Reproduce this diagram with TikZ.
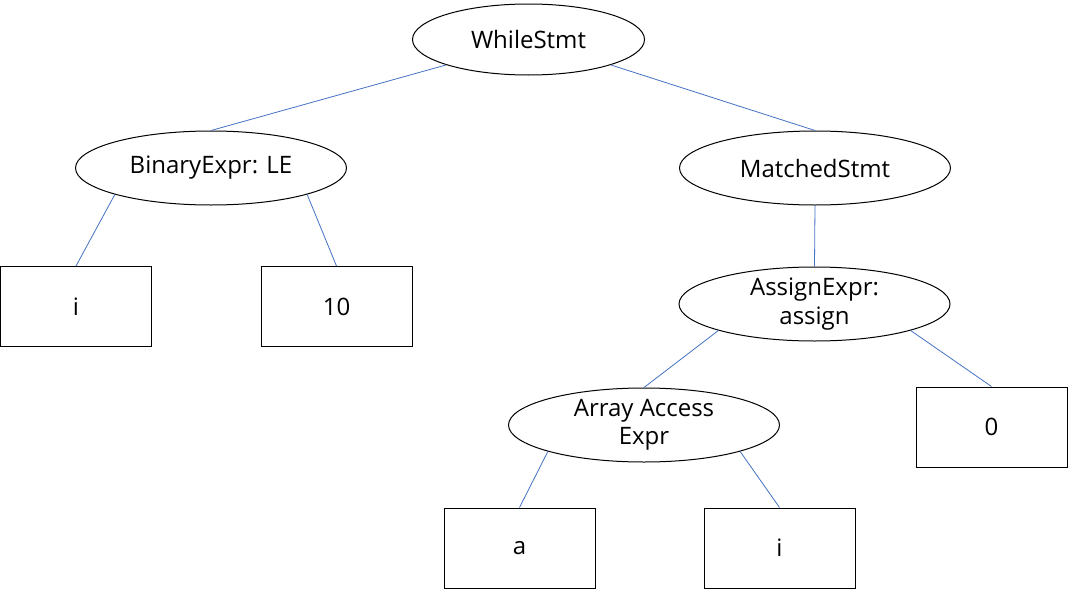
\documentclass[tikz,border=0pt]{standalone}
\usepackage{fontspec}
\setmainfont{Open Sans}
\usepackage{tikz}
\usetikzlibrary{shapes.geometric}
\definecolor{edgeblue}{RGB}{68,114,196}

\begin{document}
\begin{tikzpicture}
  [x=1pt,y=-1pt,every node/.style={draw,line width=1pt,align=center,inner sep=0pt,
   font=\fontsize{24}{28.5}\selectfont}]

  \tikzstyle{stmt} = [ellipse,minimum width=271pt,minimum height=74pt]
  \tikzstyle{leaf} = [rectangle,minimum width=151pt,minimum height=80pt]

  \useasboundingbox (0,0) rectangle (1069,589);

  \node[stmt,minimum width=232pt,minimum height=71pt] (while) at (528.5,39.5) {WhileStmt};
  \node[stmt] (binop)   at (211,168)   {BinaryExpr: LE};
  \node[stmt] (matched) at (815,168)   {MatchedStmt};
  \node[stmt] (assign)  at (814.5,304) {AssignExpr:\\assign};
  \node[stmt] (access)  at (644,425)   {Array Access\\Expr};

  \node[leaf] (i)    at (76,306.5)  {i};
  \node[leaf] (ten)  at (336.5,306.5) {10};
  \node[leaf] (zero) at (991.5,427) {0};
  \node[leaf] (a)    at (519.5,548) {a};
  \node[leaf] (idx)  at (779.5,548) {i};

  \path[draw=edgeblue, line width=0.8pt]
        (while.south west)   edge (binop.north)
        (while.south east)   edge (matched.north)
        (binop.south west)   edge (i.north)
        (binop.south east)   edge (ten.north)
        (matched.south)      edge (assign.north)
        (assign.south west)  edge (access.north)
        (assign.south east)  edge (zero.north)
        (access.south west)  edge (a.north)
        (access.south east)  edge (idx.north);
\end{tikzpicture}
\end{document}
